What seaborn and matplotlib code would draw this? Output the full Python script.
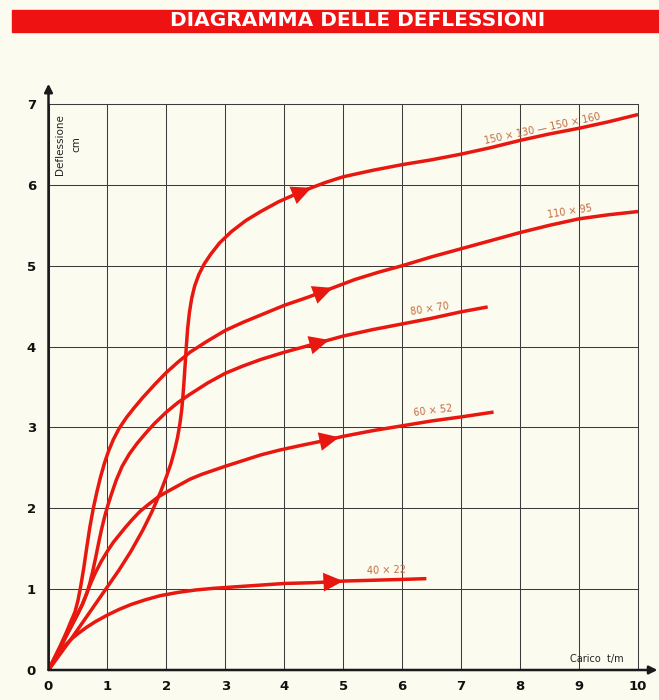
import numpy as np
import pandas as pd
import matplotlib
matplotlib.use("Agg")
import matplotlib.pyplot as plt
from matplotlib.patches import Rectangle
import seaborn as sns

# ---------------- data ----------------
title = "DIAGRAMMA DELLE DEFLESSIONI"
x_ticks = list(range(0, 11))
y_ticks = list(range(0, 8))

s150_x = [0, 0.2, 0.4, 0.6, 0.8, 1.0, 1.2, 1.4, 1.6, 1.75, 1.9, 2.0, 2.08, 2.14, 2.19, 2.23, 2.26,
          2.28, 2.30, 2.32, 2.34, 2.36, 2.39, 2.43, 2.48, 2.55, 2.64, 2.75, 2.9, 3.1, 3.35, 3.6,
          3.9, 4.3, 4.7, 5.0, 5.5, 6.0, 6.5, 7.0, 7.5, 8.0, 8.5, 9.0, 9.5, 10.0]
s150_y = [0, 0.2, 0.4, 0.61, 0.82, 1.03, 1.24, 1.47, 1.73, 1.95, 2.2, 2.39, 2.56, 2.72, 2.88, 3.05,
          3.22, 3.38, 3.58, 3.8, 4.02, 4.22, 4.42, 4.6, 4.75, 4.89, 5.02, 5.14, 5.28, 5.42, 5.56,
          5.67, 5.79, 5.92, 6.03, 6.10, 6.18, 6.25, 6.31, 6.38, 6.46, 6.55, 6.63, 6.70, 6.78, 6.87]

s110_x = [0, 0.1, 0.2, 0.3, 0.38, 0.45, 0.5, 0.55, 0.6, 0.65, 0.7, 0.76, 0.82, 0.88, 0.95, 1.02,
          1.1, 1.2, 1.32, 1.45, 1.6, 1.8, 2.0, 2.2, 2.4, 2.7, 3.0, 3.3, 3.6, 4.0, 4.4, 4.8, 5.2,
          5.6, 6.0, 6.5, 7.0, 7.5, 8.0, 8.5, 9.0, 9.5, 10.0]
s110_y = [0, 0.15, 0.3, 0.46, 0.6, 0.72, 0.86, 1.05, 1.27, 1.52, 1.76, 2.0, 2.2, 2.38, 2.56, 2.71,
          2.85, 2.99, 3.12, 3.24, 3.37, 3.53, 3.68, 3.81, 3.93, 4.07, 4.2, 4.3, 4.39, 4.51, 4.61,
          4.72, 4.83, 4.92, 5.0, 5.11, 5.21, 5.31, 5.41, 5.5, 5.58, 5.63, 5.67]

s80_x = [0, 0.1, 0.2, 0.3, 0.4, 0.5, 0.58, 0.65, 0.7, 0.75, 0.8, 0.85, 0.9, 0.95, 1.0, 1.07, 1.15,
         1.25, 1.37, 1.5, 1.65, 1.8, 2.0, 2.2, 2.4, 2.7, 3.0, 3.3, 3.6, 4.0, 4.3, 4.6, 5.0, 5.5,
         6.0, 6.5, 7.0, 7.45]
s80_y = [0, 0.14, 0.28, 0.42, 0.56, 0.7, 0.82, 0.95, 1.07, 1.22, 1.39, 1.57, 1.74, 1.89, 2.02, 2.18,
         2.35, 2.52, 2.67, 2.8, 2.93, 3.05, 3.19, 3.31, 3.41, 3.55, 3.67, 3.76, 3.84, 3.93, 3.99,
         4.05, 4.13, 4.21, 4.28, 4.35, 4.43, 4.49]

s60_x = [0, 0.1, 0.2, 0.3, 0.4, 0.5, 0.58, 0.65, 0.72, 0.8, 0.9, 1.0, 1.1, 1.2, 1.3, 1.42, 1.55,
         1.7, 1.86, 2.0, 2.2, 2.4, 2.6, 2.8, 3.0, 3.3, 3.6, 3.92, 4.3, 4.7, 5.0, 5.5, 6.0, 6.5,
         7.0, 7.55]
s60_y = [0, 0.14, 0.28, 0.42, 0.56, 0.7, 0.82, 0.95, 1.08, 1.21, 1.35, 1.47, 1.58, 1.67, 1.76, 1.86,
         1.96, 2.05, 2.14, 2.2, 2.28, 2.36, 2.42, 2.47, 2.52, 2.59, 2.66, 2.72, 2.78, 2.84, 2.89,
         2.96, 3.02, 3.08, 3.13, 3.19]

s40_x = [0, 0.1, 0.2, 0.3, 0.4, 0.5, 0.65, 0.8, 1.0, 1.2, 1.4, 1.65, 1.9, 2.2, 2.5, 2.8, 3.2, 3.6,
         4.0, 4.5, 5.0, 5.5, 6.0, 6.41]
s40_y = [0, 0.12, 0.23, 0.32, 0.39, 0.45, 0.53, 0.6, 0.68, 0.75, 0.81, 0.87, 0.92, 0.96, 0.99, 1.01,
         1.03, 1.05, 1.07, 1.08, 1.10, 1.11, 1.12, 1.13]

series_names = ["150 × 130 — 150 × 160", "110 × 95", "80 × 70", "60 × 52", "40 × 22"]
series_x = [s150_x, s110_x, s80_x, s60_x, s40_x]
series_y = [s150_y, s110_y, s80_y, s60_y, s40_y]
arrow_x = [4.46, 4.82, 4.76, 4.93, 5.0]

# ---------------- styling ----------------
sns.set_theme(style="white")
plt.rcParams["font.family"] = ["DejaVu Sans"]
BG = "#fcfbef"
RED = "#e8170f"
LABEL_C = "#c46a3e"

rows = []
for name, xs, ys in zip(series_names, series_x, series_y):
    for i, (xv, yv) in enumerate(zip(xs, ys)):
        rows.append({"series": name, "order": i, "x": xv, "y": yv})
df = pd.DataFrame(rows)

W, H = 659, 700
fig = plt.figure(figsize=(W / 100, H / 100), dpi=100, facecolor=BG)
ax = fig.add_axes([48.5 / W, 30 / H, 589.5 / W, 566 / H])
ax.set_facecolor(BG)

sns.lineplot(data=df, x="x", y="y", units="series", estimator=None, sort=False,
             color=RED, linewidth=2.5, ax=ax, legend=False, zorder=3)
for ln in ax.get_lines():
    ln.set_solid_joinstyle("round")
    ln.set_solid_capstyle("butt")

# arrowheads along curves
for xs, ys, ax_pos in zip(series_x, series_y, arrow_x):
    y_tip = np.interp(ax_pos, xs, ys)
    x_back = ax_pos - 0.35
    y_back = np.interp(x_back, xs, ys)
    ax.annotate("", xy=(ax_pos, y_tip), xytext=(x_back, y_back),
                arrowprops=dict(arrowstyle="-|>,head_length=0.95,head_width=0.45",
                                color=RED, lw=0, shrinkA=0, shrinkB=0,
                                mutation_scale=15), zorder=4)

ax.set_xlim(0, 10)
ax.set_ylim(0, 7)
ax.set_xticks(x_ticks)
ax.set_yticks(y_ticks)
ax.set_xticklabels([str(t) for t in x_ticks], fontweight="heavy", fontsize=9.5)
ax.set_yticklabels([str(t) for t in y_ticks], fontweight="heavy", fontsize=9.5)
ax.tick_params(axis="both", length=0, colors="#111111")
ax.tick_params(axis="x", pad=7)
ax.tick_params(axis="y", pad=9)
ax.set_xlabel("")
ax.set_ylabel("")
ax.grid(True, color="#3c3c3c", linewidth=0.75)
for gl in ax.get_xgridlines() + ax.get_ygridlines():
    gl.set_clip_on(False)
for sp in ax.spines.values():
    sp.set_visible(False)

# axes with arrows
ax.annotate("", xy=(0, 7.25), xytext=(0, 0),
            arrowprops=dict(arrowstyle="-|>", color="#1a1a1a", lw=1.8, shrinkA=0, shrinkB=0,
                            mutation_scale=12), annotation_clip=False, zorder=5)
ax.annotate("", xy=(10.33, 0), xytext=(0, 0),
            arrowprops=dict(arrowstyle="-|>", color="#1a1a1a", lw=1.8, shrinkA=0, shrinkB=0,
                            mutation_scale=12), annotation_clip=False, zorder=5)

# curve labels
ax.text(8.38, 6.70, series_names[0], color=LABEL_C, fontsize=7, rotation=12,
        ha="center", va="center")
ax.text(8.85, 5.67, series_names[1], color=LABEL_C, fontsize=7, rotation=9,
        ha="center", va="center")
ax.text(6.47, 4.47, series_names[2], color=LABEL_C, fontsize=7, rotation=9,
        ha="center", va="center")
ax.text(6.52, 3.21, series_names[3], color=LABEL_C, fontsize=7, rotation=7,
        ha="center", va="center")
ax.text(5.73, 1.23, series_names[4], color=LABEL_C, fontsize=7, rotation=2,
        ha="center", va="center")

# axis captions
ax.text(0.19, 6.5, "Deflessione", rotation=90, fontsize=7.5, ha="center", va="center",
        color="#222222")
ax.text(0.48, 6.5, "cm", rotation=90, fontsize=7.5, ha="center", va="center", color="#222222")
ax.text(9.3, 0.13, "Carico  t/m", fontsize=7, ha="center", va="center", color="#222222")

# title banner
fig.patches.append(Rectangle((12 / W, 1 - 32 / H), (W - 12) / W, 22 / H,
                             transform=fig.transFigure, color="#ef1212", zorder=0))
fig.text(358 / W, 1 - 21 / H, title, color="white", fontsize=14.5, fontweight="bold",
         ha="center", va="center")

fig.savefig("out.png", dpi=100, facecolor=BG)
